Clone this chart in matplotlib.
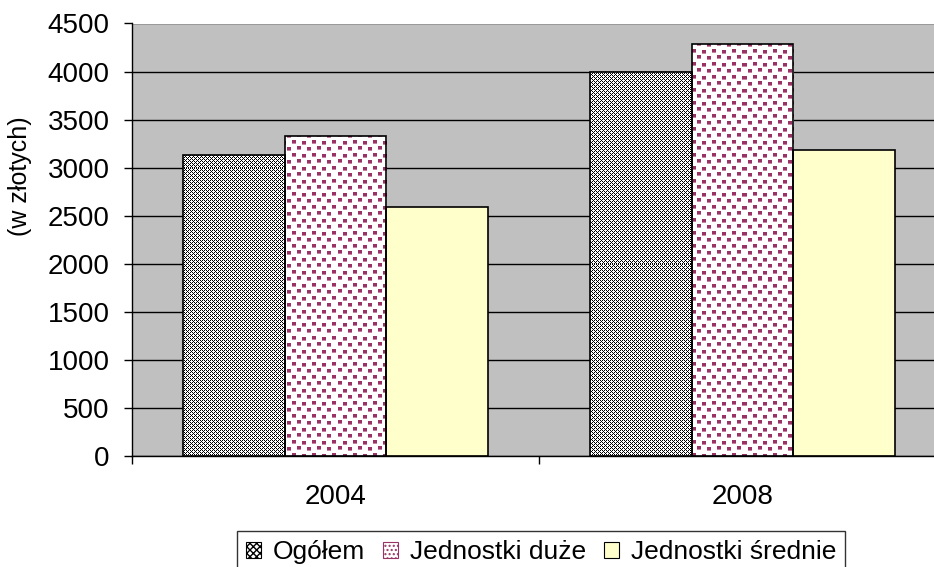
import numpy as np
import matplotlib
matplotlib.use("Agg")
import matplotlib.pyplot as plt
from matplotlib.patches import Rectangle

plt.rcParams['font.family'] = ['Liberation Sans', 'DejaVu Sans']

years = ["2004", "2008"]
series_names = ["Ogółem", "Jednostki duże", "Jednostki średnie"]
ogolem = [3130, 4000]
duze = [3330, 4290]
srednie = [2590, 3180]
y_ticks = [0, 500, 1000, 1500, 2000, 2500, 3000, 3500, 4000, 4500]
y_label = "(w złotych)"

W, H = 934, 567
fig = plt.figure(figsize=(W / 100, H / 100), dpi=100)
ax_l, ax_r, ax_t, ax_b = 132, 946, 23.5, 456
ax = fig.add_axes([ax_l / W, 1 - ax_b / H, (ax_r - ax_l) / W, (ax_b - ax_t) / H])
ax.set_facecolor("#C0C0C0")

x = np.arange(len(years))
bw = 0.25
offsets = [-bw, 0, bw]
values = [ogolem, duze, srednie]

# textures
pw, ph = int(round(ax_r - ax_l)), int(round(ax_b - ax_t))
# Ogolem: fine black/white dither
t1 = np.array([[1, 0, 1, 0],
               [0, 1, 0, 0],
               [1, 0, 1, 0],
               [0, 0, 0, 1]])
m1 = np.tile(t1, (ph // 4 + 2, pw // 4 + 2))[:ph, :pw]
tex1 = np.ones((ph, pw, 3))
tex1[m1 == 1] = 0.0
# Jednostki duze: confetti of magenta squares
t2 = np.zeros((13, 20), dtype=int)
for (r, c) in [(0, 0), (1, 10), (6, 5), (7, 15)]:
    t2[r:r + 3, c:c + 4] = 1
    t2[r + 3, c:c + 4] = 2
m2 = np.tile(t2, (ph // 13 + 2, pw // 20 + 2))[:ph, :pw]
tex2 = np.ones((ph, pw, 3))
tex2[m2 == 1] = np.array([0x99, 0x33, 0x66]) / 255
tex2[m2 == 2] = np.array([0xC8, 0x80, 0xA4]) / 255
textures = [tex1, tex2, None]
faces = ["white", "white", "#FFFFCC"]

for vals, off, tex, fc in zip(values, offsets, textures, faces):
    bars = ax.bar(x + off, vals, width=bw, color=fc, edgecolor="none", zorder=2)
    if tex is not None:
        for b in bars:
            im = ax.imshow(tex, extent=[0, 1, 0, 1], transform=ax.transAxes,
                           aspect="auto", interpolation="nearest", zorder=2.5)
            im.set_clip_path(b)
    ax.bar(x + off, vals, width=bw, fill=False, edgecolor="black", linewidth=1.2, zorder=3)

ax.set_xlim(-0.5, len(years) - 0.5)
ax.set_ylim(0, 4500)
ax.set_yticks(y_ticks)
ax.set_yticklabels([str(v) for v in y_ticks], fontsize=20)
ax.yaxis.grid(True, color="black", linewidth=1.0, zorder=1)
ax.set_axisbelow(True)
ax.tick_params(axis="y", direction="out", length=6, width=1, pad=10, colors="black")

ax.set_xticks(np.arange(-0.5, len(years), 1.0))
ax.set_xticklabels([])
ax.tick_params(axis="x", which="major", direction="out", length=6, width=1)
ax.set_xticks(x, minor=True)
ax.set_xticklabels(years, minor=True, fontsize=20)
ax.tick_params(axis="x", which="minor", length=0, pad=20)

for s in ["top", "right"]:
    ax.spines[s].set_visible(False)
ax.spines["left"].set_color("black")
ax.spines["bottom"].set_color("black")
ax.spines["left"].set_linewidth(1.0)
ax.spines["bottom"].set_linewidth(1.0)

fig.text(20 / W, 1 - 176 / H, y_label, rotation=90, fontsize=18,
         ha="center", va="center")

handles = [
    Rectangle((0, 0), 1, 1, facecolor="white", edgecolor="black", hatch="xxxxx", linewidth=0.8),
    Rectangle((0, 0), 1, 1, facecolor="white", edgecolor="#993366", hatch="....", linewidth=0.8),
    Rectangle((0, 0), 1, 1, facecolor="#FFFFCC", edgecolor="black", linewidth=0.8),
]
leg = fig.legend(handles, series_names, loc="upper left",
                 bbox_to_anchor=(237 / W, 1 - 531 / H), ncol=3, fontsize=19,
                 frameon=True, fancybox=False, handlelength=0.55, handleheight=0.55,
                 handletextpad=0.45, columnspacing=0.7, borderpad=0.35,
                 borderaxespad=0)
leg.get_frame().set_edgecolor("black")
leg.get_frame().set_linewidth(1.0)

fig.savefig("out.png", dpi=100)
